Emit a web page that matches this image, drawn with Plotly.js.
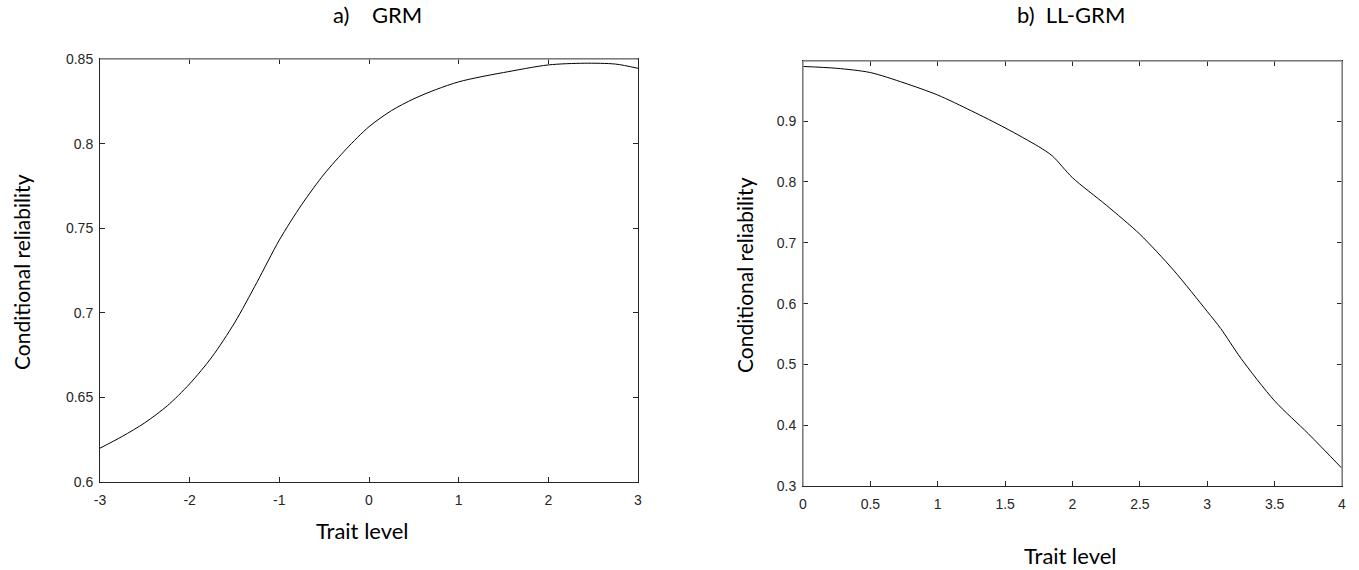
<!DOCTYPE html>
<html>
<head>
<meta charset="utf-8">
<script src="https://cdn.plot.ly/plotly-3.0.1.min.js"></script>
<style>html,body{margin:0;padding:0;background:#fff;}#chart{width:1359px;height:570px;}</style>
</head>
<body>
<div id="chart"></div>
<script>
// Panel a) GRM
const grmTrait = [-3, -2.75, -2.5, -2.25, -2, -1.75, -1.5, -1.25, -1, -0.75, -0.5, -0.25, 0, 0.25, 0.5, 0.75, 1, 1.25, 1.5, 2, 2.4, 2.75, 3];
const grmReliability = [0.620, 0.627, 0.635, 0.645, 0.658, 0.674, 0.694, 0.718, 0.743, 0.764, 0.782, 0.797, 0.810, 0.8195, 0.8265, 0.832, 0.8365, 0.8395, 0.842, 0.8465, 0.8475, 0.847, 0.8445];
// Panel b) LL-GRM
const llTrait = [0, 0.25, 0.5, 0.75, 1, 1.25, 1.5, 1.75, 1.85, 2, 2.25, 2.5, 2.75, 3, 3.1, 3.25, 3.5, 3.75, 4];
const llReliability = [0.990, 0.987, 0.980, 0.963, 0.943, 0.917, 0.889, 0.858, 0.843, 0.807, 0.762, 0.714, 0.655, 0.587, 0.559, 0.510, 0.440, 0.386, 0.329];

const grmXTicks = [-3, -2, -1, 0, 1, 2, 3];
const grmXTickText = ['-3', '-2', '-1', '0', '1', '2', '3'];
const grmYTicks = [0.6, 0.65, 0.7, 0.75, 0.8, 0.85];
const grmYTickText = ['0.6', '0.65', '0.7', '0.75', '0.8', '0.85'];
const llXTicks = [0, 0.5, 1, 1.5, 2, 2.5, 3, 3.5, 4];
const llXTickText = ['0', '0.5', '1', '1.5', '2', '2.5', '3', '3.5', '4'];
const llYTicks = [0.3, 0.4, 0.5, 0.6, 0.7, 0.8, 0.9];
const llYTickText = ['0.3', '0.4', '0.5', '0.6', '0.7', '0.8', '0.9'];

const panelTitles = ['a)&nbsp;&nbsp;&nbsp; GRM', 'b)&nbsp; LL-GRM'];
const xTitle = 'Trait level';
const yTitle = 'Conditional reliability';

const W = 1359, H = 570;
const px = v => v / W;
const py = v => 1 - v / H;

const tickFont = {family: 'Liberation Sans, Arial, sans-serif', size: 14, color: '#262626'};
const labelFont = {family: 'Lato, Carlito, Calibri, sans-serif', size: 22, color: '#000'};
const yLabelFont = {family: 'Lato, Carlito, Calibri, sans-serif', size: 21, color: '#000'};

function axis(extra) {
  return Object.assign({
    showgrid: false, zeroline: false, showline: true, linecolor: '#262626', linewidth: 1,
    mirror: 'ticks', ticks: 'inside', ticklen: 5, tickcolor: '#262626', tickwidth: 1,
    tickfont: tickFont, tickmode: 'array', fixedrange: true
  }, extra);
}

const traces = [
  {x: grmTrait, y: grmReliability, xaxis: 'x', yaxis: 'y', type: 'scatter', mode: 'lines',
   line: {color: '#000', width: 1, shape: 'spline', smoothing: 0.8}, hoverinfo: 'skip'},
  {x: llTrait, y: llReliability, xaxis: 'x2', yaxis: 'y2', type: 'scatter', mode: 'lines',
   line: {color: '#000', width: 1, shape: 'spline', smoothing: 0.8}, hoverinfo: 'skip'}
];

const layout = {
  width: W, height: H, showlegend: false,
  paper_bgcolor: '#fff', plot_bgcolor: '#fff',
  margin: {l: 0, r: 0, t: 0, b: 0},
  xaxis: axis({domain: [px(100), px(638)], range: [-3, 3], tickvals: grmXTicks, ticktext: grmXTickText, anchor: 'y', ticklabelstandoff: 5}),
  yaxis: axis({domain: [py(482), py(59)], range: [0.6, 0.85], tickvals: grmYTicks, ticktext: grmYTickText, anchor: 'x', ticklabelstandoff: 3}),
  xaxis2: axis({domain: [px(803), px(1342)], range: [0, 4], tickvals: llXTicks, ticktext: llXTickText, anchor: 'y2', ticklabelstandoff: 5}),
  yaxis2: axis({domain: [py(486), py(61)], range: [0.3, 0.999], tickvals: llYTicks, ticktext: llYTickText, anchor: 'x2', ticklabelstandoff: 3}),
  shapes: [
    {type: 'line', xref: 'paper', yref: 'paper', x0: px(100), x1: px(638), y0: py(59), y1: py(59), line: {color: '#999', width: 1.5}},
    {type: 'line', xref: 'paper', yref: 'paper', x0: px(803), x1: px(1342), y0: py(61), y1: py(61), line: {color: '#999', width: 1.5}},
    {type: 'line', xref: 'paper', yref: 'paper', x0: px(1342), x1: px(1342), y0: py(486), y1: py(61), line: {color: '#999', width: 1.5}},
    {type: 'line', xref: 'paper', yref: 'paper', x0: px(803), x1: px(803), y0: py(486), y1: py(61), line: {color: '#999', width: 1.5}}
  ],
  annotations: [
    {text: panelTitles[0], xref: 'paper', yref: 'paper', x: px(377), y: py(15), showarrow: false, font: labelFont, xanchor: 'center', yanchor: 'middle'},
    {text: panelTitles[1], xref: 'paper', yref: 'paper', x: px(1071), y: py(15), showarrow: false, font: labelFont, xanchor: 'center', yanchor: 'middle'},
    {text: xTitle, xref: 'paper', yref: 'paper', x: px(362), y: py(530), showarrow: false, font: labelFont, xanchor: 'center', yanchor: 'middle'},
    {text: xTitle, xref: 'paper', yref: 'paper', x: px(1070), y: py(555), showarrow: false, font: labelFont, xanchor: 'center', yanchor: 'middle'},
    {text: yTitle, xref: 'paper', yref: 'paper', x: px(22), y: py(272), showarrow: false, font: yLabelFont, textangle: -90, xanchor: 'center', yanchor: 'middle'},
    {text: yTitle, xref: 'paper', yref: 'paper', x: px(745), y: py(275), showarrow: false, font: yLabelFont, textangle: -90, xanchor: 'center', yanchor: 'middle'}
  ]
};

Plotly.newPlot('chart', traces, layout, {staticPlot: true, displayModeBar: false});
</script>
</body>
</html>
